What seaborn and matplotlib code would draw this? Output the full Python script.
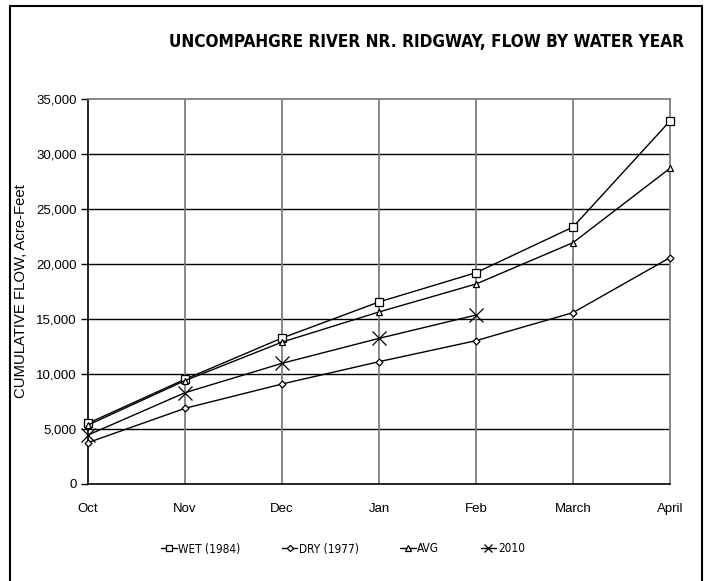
import matplotlib
matplotlib.use("Agg")
import matplotlib.pyplot as plt
import seaborn as sns
import pandas as pd
from matplotlib.patches import Rectangle
from matplotlib.lines import Line2D
from matplotlib.ticker import FuncFormatter

months = ["Oct", "Nov", "Dec", "Jan", "Feb", "March", "April"]
wet_1984 = [5520, 9520, 13270, 16550, 19210, 23360, 33000]
dry_1977 = [3760, 6880, 9090, 11120, 13030, 15580, 20580]
avg = [5360, 9400, 12900, 15640, 18180, 21940, 28700]
y2010 = [4450, 8300, 10970, 13240, 15360]
series_names = ["WET (1984)", "DRY (1977)", "AVG", "2010"]
yticks = [0, 5000, 10000, 15000, 20000, 25000, 30000, 35000]

sns.set_theme(style="white")
plt.rcParams["font.family"] = ["Liberation Sans", "DejaVu Sans"]
plt.rcParams["text.color"] = "black"
plt.rcParams["axes.labelcolor"] = "black"
plt.rcParams["xtick.color"] = "black"
plt.rcParams["ytick.color"] = "black"

fig = plt.figure(figsize=(7.07, 5.81), dpi=100)
ax = fig.add_axes([88/707, 1-484/581, (670-88)/707, (484-99)/581])

markers = ["s", "D", "^", "x"]
sizes = [5.5, 3.5, 5, 10]
for name, vals, mk, ms in zip(series_names, [wet_1984, dry_1977, avg, y2010], markers, sizes):
    d = pd.DataFrame({"month": list(range(len(vals))), "flow": vals})
    sns.lineplot(data=d, x="month", y="flow", ax=ax, color="black", marker=mk,
                 markersize=ms, markeredgecolor="black", markerfacecolor="white",
                 markeredgewidth=0.9, linewidth=1.0, clip_on=False, zorder=5, label=name)

ax.set_xlim(0, 6)
ax.set_ylim(0, 35000)
ax.set_xticks(range(len(months)))
ax.set_xticklabels(months)
ax.set_yticks(yticks)
ax.yaxis.set_major_formatter(FuncFormatter(lambda v, p: f"{int(v):,}"))
ax.tick_params(axis="x", length=0, pad=14, labelsize=9.5, colors="black")
ax.tick_params(axis="y", length=5, width=1, color="black", direction="out",
               pad=3, labelsize=9.5, left=True, labelcolor="black")

for y in yticks[1:-1]:
    ax.axhline(y, color="black", lw=1.0, zorder=1)
for x in range(1, 6):
    ax.axvline(x, color="#7f7f7f", lw=1.3, zorder=1)

for s in ["left", "bottom"]:
    ax.spines[s].set_color("black")
    ax.spines[s].set_linewidth(1.2)
for s in ["top", "right"]:
    ax.spines[s].set_color("#7f7f7f")
    ax.spines[s].set_linewidth(1.3)

ax.set_xlabel("")
ax.set_ylabel("CUMULATIVE FLOW, Acre-Feet", fontsize=10.7, color="black")
ax.yaxis.set_label_coords((28-88)/582, 0.5)

handles, labels = ax.get_legend_handles_labels()
if ax.get_legend() is not None:
    ax.get_legend().remove()
leg_scale = [0.8, 0.9, 0.8, 0.55]
proxies = []
for h, sc in zip(handles, leg_scale):
    proxies.append(Line2D([], [], color="black", lw=1.0, marker=h.get_marker(),
                          markersize=h.get_markersize() * sc, markeredgecolor="black",
                          markerfacecolor="white", markeredgewidth=0.9))
leg = fig.legend(proxies, labels, loc="center", bbox_to_anchor=(343/707, 1-549/581),
                 ncol=4, frameon=False, handlelength=1.3,
                 handletextpad=0.15, columnspacing=3.5,
                 prop={"family": ["DejaVu Sans"], "stretch": "condensed", "size": 8.5})

fig.text(426/707, 1-42/581, "UNCOMPAHGRE RIVER NR. RIDGWAY, FLOW BY WATER YEAR",
         ha="center", va="center", fontsize=12.3, fontweight="bold",
         family=["DejaVu Sans"], fontstretch="condensed")

fig.patches.append(Rectangle((10/707, -10/581), 692/707, 585/581, transform=fig.transFigure,
                             fill=False, edgecolor="black", lw=1.5, clip_on=False))

fig.savefig("out.png", dpi=100)
